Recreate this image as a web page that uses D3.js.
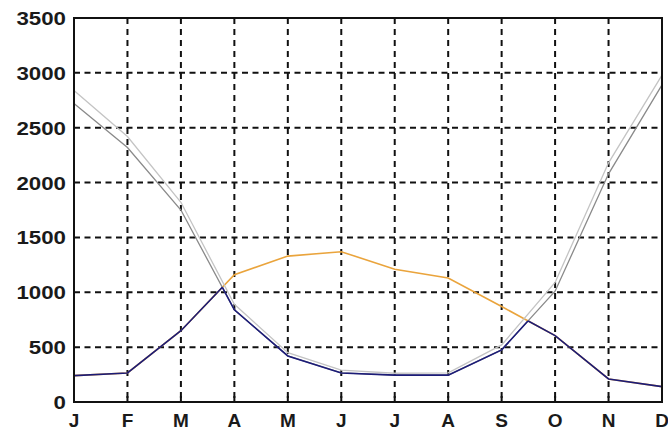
<!DOCTYPE html>
<html>
  <head>
    <script src="https://cdn.jsdelivr.net/npm/d3@7"></script>
    <style>
      body { margin: 0; background: #fff; }
      text { font-family: "Liberation Sans", Arial, sans-serif; font-weight: bold; fill: #1a1a1a; }
    </style>
  </head>
  <body>
    <svg width="668" height="430" id="mainsvg"></svg>
    <script>
    // data
    const months = ['J','F','M','A','M','J','J','A','S','O','N','D'];
    const yTicks = [0, 500, 1000, 1500, 2000, 2500, 3000, 3500];
    const grayLight = [2840, 2420, 1820, 890, 450, 290, 262, 265, 520, 1090, 2180, 2980];
    const grayDark  = [2720, 2320, 1750, 840, 420, 265, 245, 245, 475, 1010, 2080, 2890];
    const orange    = [240, 265, 650, 1160, 1330, 1370, 1210, 1130, 870, 605, 210, 140];

    let svg = d3.select('#mainsvg');
    const pl = 74, pr = 662, pt = 18, pb = 402;

    const x = d3.scaleLinear().domain([0, 11]).range([pl, pr]);
    const y = d3.scaleLinear().domain([0, 3500]).range([pb, pt]);

    const idx = d3.range(12);

    // grid
    svg.append('g').selectAll('line').data(yTicks.slice(1, -1)).join('line')
      .attr('x1', pl).attr('x2', pr)
      .attr('y1', d => y(d)).attr('y2', d => y(d))
      .attr('stroke', '#111').attr('stroke-width', 2)
      .attr('stroke-dasharray', '6,4.5');
    svg.append('g').selectAll('line').data(idx.slice(1, -1)).join('line')
      .attr('x1', d => x(d)).attr('x2', d => x(d))
      .attr('y1', pt).attr('y2', pb)
      .attr('stroke', '#111').attr('stroke-width', 2)
      .attr('stroke-dasharray', '6,5');

    const line = arr => d3.line().x((d, i) => x(i)).y(d => y(d))(arr);

    // clip areas: below each curve
    const defs = svg.append('defs');
    const below = arr => d3.area().x((d, i) => x(i)).y0(pb + 5).y1(d => y(d))(arr);
    defs.append('clipPath').attr('id', 'underGray').append('path').attr('d', below(grayDark));
    defs.append('clipPath').attr('id', 'underOrange').append('path').attr('d', below(orange));

    svg.append('path').attr('d', line(orange))
      .attr('fill', 'none').attr('stroke', '#eaa43c').attr('stroke-width', 1.6);
    svg.append('path').attr('d', line(grayLight))
      .attr('fill', 'none').attr('stroke', '#c4c4c4').attr('stroke-width', 1.3);
    svg.append('path').attr('d', line(grayDark))
      .attr('fill', 'none').attr('stroke', '#8a8a8a').attr('stroke-width', 1.3);

    // lower envelope in navy
    svg.append('path').attr('d', line(orange)).attr('clip-path', 'url(#underGray)')
      .attr('fill', 'none').attr('stroke', '#1c1c78').attr('stroke-width', 1.6);
    svg.append('path').attr('d', line(grayDark)).attr('clip-path', 'url(#underOrange)')
      .attr('fill', 'none').attr('stroke', '#1c1c78').attr('stroke-width', 1.6);

    // inner ticks
    svg.append('g').selectAll('line').data(idx).join('line')
      .attr('x1', d => x(d)).attr('x2', d => x(d))
      .attr('y1', pb).attr('y2', pb - 6)
      .attr('stroke', '#111').attr('stroke-width', 2);

    // frame
    svg.append('rect').attr('x', pl).attr('y', pt)
      .attr('width', pr - pl).attr('height', pb - pt)
      .attr('fill', 'none').attr('stroke', '#111').attr('stroke-width', 2);

    // labels
    svg.append('g').selectAll('text').data(yTicks).join('text')
      .attr('x', 66).attr('y', d => y(d) + 7)
      .attr('text-anchor', 'end').attr('font-size', 19)
      .attr('textLength', d => String(d).length * 12.4).attr('lengthAdjust', 'spacingAndGlyphs')
      .text(d => d);
    svg.append('g').selectAll('text').data(months).join('text')
      .attr('x', (d, i) => x(i)).attr('y', 427)
      .attr('text-anchor', 'middle').attr('font-size', 19)
      .text(d => d);
    </script>
  </body>
</html>
